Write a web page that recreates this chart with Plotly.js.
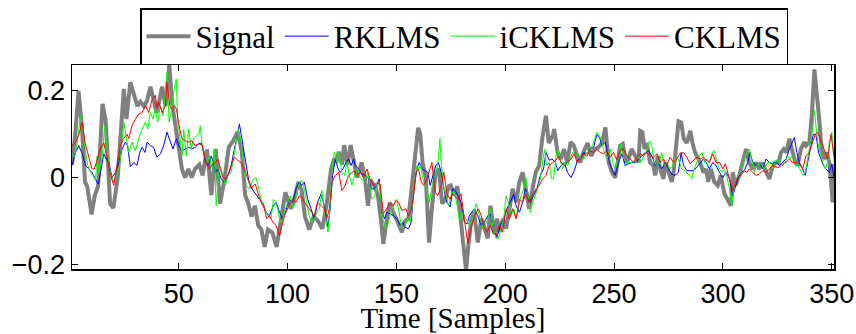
<!DOCTYPE html>
<html>
<head>
<meta charset="utf-8">
<script src="https://cdn.plot.ly/plotly-3.0.1.min.js"></script>
<style>html,body{margin:0;padding:0;background:#fff;}#chart{width:856px;height:334px;}</style>
</head>
<body>
<div id="chart"></div>
<script>
// Desired signal (turning points)
const sigX = [1,2.5,4,5.5,7,8,10,11.5,13,15,16.5,18.5,20,22,24.8,26,27.8,29.4,31,32.4,34,35.5,37,38.5,39.8,41,42.4,44,45.7,47,48.5,50,51.5,53,54.5,56,57.5,59.5,61,63,65,67,69,71,73,75,77,79,80.5,82,83.5,85,86.5,88,89.5,91,93,95,97,99,101.5,103,105,106.5,108,110,112,114,116,118,120,121.5,122.5,123.5,125,126,127.5,129,130.5,132,134,135.5,137,138,140,141.5,143,144,145.5,147,148.5,150,152.5,154,155.5,157,158.6,160,161,162,163.5,165,166.5,168,169.5,171,172.5,174,175,176.5,178,179.7,181,182,183,184.3,185.7,187.4,189,190.4,192,193.2,195,196.2,197.5,199,200.4,202,203.4,205,206.5,208,209.5,211,212.5,214,215.6,217,218.7,220,221.8,222.5,224,225.5,227,228.5,230,231.5,233,234.5,236,237.8,239.5,241,242.9,244.4,246,247.5,249,250.5,252.8,254,255.3,256.6,258,259.7,261.2,262,263,264,265,266.5,268,268.9,270,271.2,272.7,273.5,275,276.5,277.3,279.6,280.8,282,283.4,285,286,287.2,289.5,291,292.3,293.2,294.5,296,297.6,299,300.7,302.2,303.7,304.5,305.7,307.5,309,310.6,312,313.7,315,316.7,318,319.8,321.3,322.5,324,325.5,326.7,328,329.2,330.5,331.7,333.2,334.3,335.8,337.4,338.2,339.7,340.9,342,343,344.2,345.3,346.5,347.6,348.8,349.5,350.4,351];
const sigY = [0.03,0.1,0.2,0.12,-0.01,-0.02,-0.085,-0.04,-0.02,0.17,0.13,-0.06,-0.07,0.0,0.205,0.135,0.22,0.19,0.165,0.175,0.165,0.178,0.21,0.18,0.15,0.175,0.21,0.165,0.26,0.17,0.12,0.058,0.02,0.0,0.02,0.0,0.02,0.03,0.005,0.065,-0.04,0.066,-0.06,-0.005,0.07,0.085,0.105,0.06,-0.04,-0.06,-0.09,-0.065,-0.11,-0.12,-0.16,-0.12,-0.127,-0.16,-0.1,-0.034,-0.072,-0.05,-0.01,-0.03,-0.09,-0.12,-0.09,-0.1,-0.118,-0.06,0.02,0.045,0.035,0.06,0.03,0.075,0.03,0.075,0.035,0.0,0.035,0.0,-0.065,-0.005,-0.02,-0.04,-0.1,-0.153,-0.1,-0.057,-0.08,-0.095,-0.126,-0.1,-0.095,-0.02,0.05,0.115,0.1,0.035,0.0,-0.15,-0.06,0.01,0.02,-0.06,-0.05,-0.02,-0.018,-0.04,-0.02,-0.095,-0.165,-0.215,-0.16,-0.1,-0.08,-0.15,-0.095,-0.118,-0.14,-0.065,-0.13,-0.095,-0.125,-0.095,-0.118,-0.07,-0.026,-0.057,-0.01,0.012,-0.026,-0.072,-0.026,0.012,0.028,0.09,0.143,0.08,0.097,0.112,0.058,0.043,0.066,0.035,0.082,0.074,0.05,0.035,0.06,0.08,0.05,0.065,0.07,0.08,0.116,0.035,0.012,0.0,0.074,0.078,0.035,0.043,0.066,0.05,0.035,0.108,0.105,0.066,0.08,0.035,0.028,0.005,0.05,0.02,-0.003,0.035,0.012,-0.01,0.012,0.13,0.127,0.09,0.08,0.108,0.08,0.058,0.035,0.012,0.02,-0.01,0.02,-0.01,-0.018,0.005,-0.038,-0.05,-0.065,0.012,-0.018,0.005,0.035,0.066,0.035,0.02,0.035,0.02,0.035,0.012,-0.003,0.02,0.035,0.035,0.058,0.066,0.058,0.09,0.066,0.035,0.028,0.066,0.082,0.074,0.082,0.15,0.25,0.205,0.135,0.066,0.043,0.058,0.035,0.0,-0.057,0.03];

// RKLMS output
const rkX = [1,2.6,4.1,5.7,7.2,8.7,10.2,11.8,13,14.1,15.6,16.7,17.9,19.4,21,22.5,24,25.5,26.5,27.8,29.4,30.9,32.1,33.2,34.5,35.5,37,38.5,40,41.6,43.1,44.6,46.2,47.4,48.9,50,51.5,53,54.6,56.1,57.6,59.2,60.5,62.3,63.8,64.9,66,66.9,68,69.5,71,72.6,74.1,75.6,76.7,77.9,79.1,80.7,82.2,83.7,85.2,87.1,88.6,90.1,91.7,93.5,94.7,96.3,97.5,99,100.8,102.4,103.9,105.4,106.5,107.7,109.3,110.8,112.3,113.8,115.4,116.9,118.6,119.6,120.7,122,123.2,124.2,125.5,126.8,128,129.2,130.4,131.1,132.7,134.2,135.7,137,138.5,139.5,141,142.1,143.4,144.6,145.6,147.2,148.7,150.2,151.8,152.9,154,155.6,156.8,157.9,159.4,160.5,161.7,163.2,164.4,165.5,167,168.1,169.3,170.6,171.8,173.2,174.7,175.9,177,178.2,179.7,181.2,182.5,183.5,184.6,185.8,187.4,188.9,190.4,192,193.2,195,196.2,197.8,199.3,200.8,202.3,203.9,205,206.5,208,209.2,210.3,211.5,213,214.6,216.1,217.6,218.7,220.2,221.5,223,224.1,225.6,227.1,228.6,230.2,231.7,233.2,234.5,236,237.5,239,240.6,242.1,243.3,244.4,246,247.5,249,250.5,252,253.6,255.1,256.6,258.2,259.7,261.2,262.7,264.3,265.8,267.3,268.9,270.4,271.9,273.5,275,276.5,278,279.5,280.8,281.9,283.4,284.9,286.5,288,289.5,291,292.3,293.8,295.3,296.8,298.4,299.9,301.4,303,304.5,305.7,306.8,308.3,309.8,311.4,312.4,313.7,315.2,316.7,318.3,319.8,321.3,322.8,324.4,325.9,327.4,329,330.5,331.7,332.8,333.9,335.1,336.6,337.8,338.9,340.4,341.5,342.7,343.9,345,346.1,347.3,348.8,350,351];
const rkY = [0.028,0.058,0.074,0.055,0.028,0.02,0.012,-0.003,-0.015,0.012,0.055,0.043,0.035,0.0,0.012,0.035,0.066,0.082,0.074,0.025,0.035,0.028,0.058,0.07,0.058,0.082,0.074,0.07,0.047,0.055,0.074,0.105,0.082,0.066,0.09,0.074,0.062,0.066,0.07,0.066,0.07,0.078,0.08,0.035,0.028,0.05,0.035,0.012,0.02,-0.003,-0.01,0.005,0.028,0.066,0.09,0.124,0.09,0.035,-0.007,-0.026,-0.038,-0.05,-0.057,-0.08,-0.088,-0.065,-0.057,-0.08,-0.095,-0.08,-0.05,-0.057,-0.026,-0.01,-0.018,-0.01,-0.05,-0.072,-0.095,-0.057,-0.038,-0.065,-0.115,-0.068,0.005,0.043,0.02,0.012,0.02,0.035,0.043,0.028,0.043,0.028,0.02,0.008,0.005,0.0,-0.026,-0.026,-0.018,-0.003,-0.08,-0.095,-0.08,-0.084,-0.088,-0.095,-0.11,-0.103,-0.115,-0.118,-0.103,-0.034,0.02,0.035,0.02,0.016,0.012,-0.018,0.012,0.028,0.035,0.012,-0.026,-0.057,-0.068,-0.026,-0.03,-0.042,-0.057,-0.103,-0.107,-0.088,-0.08,-0.072,-0.088,-0.11,-0.103,-0.088,-0.084,-0.126,-0.138,-0.11,-0.095,-0.072,-0.057,-0.038,-0.065,-0.08,-0.057,-0.026,-0.034,-0.057,-0.042,-0.026,0.005,0.02,0.058,0.04,0.043,0.035,0.016,0.028,0.035,0.012,0.0,0.016,0.04,0.043,0.058,0.055,0.066,0.07,0.1,0.093,0.074,0.082,0.043,0.02,0.005,0.035,0.055,0.028,0.032,0.035,0.035,0.043,0.05,0.058,0.062,0.05,0.028,0.032,0.02,0.035,0.02,0.008,0.005,0.012,0.058,0.028,0.016,0.016,0.016,0.024,0.035,0.043,0.035,0.02,0.035,0.028,0.012,0.0,0.012,-0.003,-0.042,-0.018,-0.003,0.012,0.016,0.035,0.058,0.035,0.028,0.035,0.02,0.043,0.035,0.032,0.035,0.028,0.035,0.043,0.066,0.082,0.093,0.058,0.035,0.02,0.005,0.035,0.074,0.1,0.1,0.058,0.043,0.028,0.02,0.012,0.032,0.0];

// iCKLMS output
const icX = [1,2.2,3.4,4.9,6.1,7.2,8.3,9.5,10.7,11.8,12.5,13.3,14.8,16,17.1,18.3,19.9,21.4,22.9,24,24.8,26,27.1,28.6,30.1,31.7,33.2,34.7,35.8,37,38.2,39.3,40.4,41.6,42.8,43.9,44.6,45.6,46.5,47.7,48.9,49.5,50.8,51.6,52.3,53.5,54.6,55.7,56.9,58.2,59.3,59.9,60.8,61.9,62.9,64.1,65.4,66.4,67.2,68.7,70.3,71.5,72.6,74.1,75.3,76.4,77.4,78.7,79.9,81,82.2,83.2,84.3,85.5,86.8,87.8,89.4,90.9,92.4,93.5,94.5,95.5,96.6,97.8,99,100,101.3,102.4,103.6,104.7,105.7,107,108.5,110,111.2,112.3,113.4,114.6,115.8,117.4,118.6,119.5,120.4,121.6,122.7,123.5,125,126.2,127.3,128.4,129.6,131.1,132.3,133.4,134.5,135.7,136.9,138,138.8,140,141.1,142.1,143,144.1,145.2,146.4,147.9,149.2,150.2,151.3,152.5,154,155.2,156.3,157.4,158.6,159.4,160.2,161,162.5,164,165.1,166,167,168.1,169.3,170,170.6,171.6,172.7,174,175.2,176.3,177.4,179,180.5,182,183.5,185,186.6,188,189.7,190.8,192,193.2,194.2,195.8,197,198,199.3,200.4,201.4,202.6,203.9,205,206.1,207.2,208.5,209.5,210.6,211.5,212.6,213.7,214.9,216.1,217.2,218,219,220.2,221.3,222.2,223.3,224.1,225.1,226.4,227.4,228.6,229.9,230.9,232.2,233.2,234.5,236,237.5,239,240.6,242.1,243.3,244.4,245.5,246.7,248.2,249.4,250.5,252,253.3,254.3,255.9,257,258.2,259.7,261.2,262.3,263.5,264.7,266.3,267.3,268.4,269.6,270.8,271.9,273,274.2,275.4,276.5,277.6,278.8,280,281.1,282.6,284.2,285.7,286.8,288,289.2,290.4,291.5,292.6,293.8,295,296.1,297.2,298.4,299.6,300.7,301.7,303,304,305,306,307.2,308.3,309.8,310.9,312.1,313.4,314.4,315.5,316.7,317.8,319,320.5,321.6,322.8,324,325.1,326.2,327.4,328.6,329.7,330.8,332,333.2,334.3,335.4,336.6,337.8,338.9,340,341.2,342,342.7,343.5,344.6,345.8,347,348.1,348.8,350,351];
const icY = [0.055,0.048,0.082,0.143,0.112,0.058,0.028,0.012,0.005,-0.007,0.05,0.012,0.043,0.12,0.066,0.02,-0.01,0.005,0.028,0.09,0.128,0.09,0.058,0.082,0.062,0.09,0.112,0.128,0.112,0.15,0.135,0.158,0.128,0.166,0.143,0.197,0.243,0.128,0.15,0.197,0.228,0.135,0.082,0.05,0.112,0.05,0.112,0.066,0.09,0.097,0.1,0.12,0.074,0.05,0.035,0.05,0.02,0.066,-0.065,0.028,0.005,-0.018,0.005,0.012,0.05,0.09,0.112,0.082,0.035,-0.018,-0.026,-0.018,-0.003,0.0,-0.026,-0.05,-0.072,-0.088,-0.095,-0.05,-0.057,-0.072,-0.103,-0.095,-0.072,-0.057,-0.042,-0.072,-0.057,-0.026,-0.007,-0.01,-0.05,-0.088,-0.103,-0.095,-0.08,-0.072,-0.03,-0.095,-0.126,-0.07,0.02,0.058,0.035,0.058,0.012,0.005,0.035,0.005,-0.018,0.012,0.02,0.0,-0.007,-0.003,0.012,-0.026,-0.05,-0.042,-0.026,-0.01,-0.057,-0.103,-0.118,-0.103,-0.072,-0.057,-0.05,-0.08,-0.118,-0.11,-0.095,-0.103,-0.065,-0.003,0.028,0.02,0.028,-0.01,-0.026,-0.057,-0.034,-0.003,0.008,0.043,0.09,0.035,-0.018,-0.042,-0.065,-0.04,-0.03,-0.05,-0.1,-0.08,-0.095,-0.11,-0.095,-0.06,-0.085,-0.118,-0.11,-0.095,-0.072,-0.11,-0.141,-0.14,-0.118,-0.095,-0.042,-0.057,-0.088,-0.072,-0.095,-0.065,-0.042,-0.026,0.0,-0.042,-0.08,-0.057,-0.042,-0.026,-0.003,0.035,0.066,0.028,0.035,-0.003,-0.003,0.05,0.066,0.043,0.02,0.035,0.028,0.043,0.058,0.05,0.058,0.043,0.043,0.058,0.062,0.082,0.105,0.097,0.082,0.058,0.043,0.066,0.035,0.02,0.043,0.078,0.043,0.035,0.035,0.035,0.043,0.05,0.035,0.05,0.058,0.085,0.074,0.035,0.028,0.035,0.058,0.028,0.035,0.02,0.024,0.035,0.05,0.035,0.02,0.016,0.005,-0.003,0.02,0.035,0.05,0.058,0.035,0.043,0.035,0.058,0.062,0.035,0.02,0.012,0.02,0.005,-0.026,-0.065,-0.026,-0.003,0.005,0.012,0.043,0.058,0.066,0.035,0.012,0.028,0.035,0.028,0.02,0.035,0.035,0.02,0.035,0.043,0.035,0.028,0.035,0.05,0.043,0.05,0.035,0.028,0.02,0.005,0.012,0.043,0.074,0.112,0.155,0.112,0.082,0.058,0.035,0.02,0.035,0.082,0.105,0.035];

// CKLMS output
const ckX = [1,2.6,4,5.7,7,8.7,10.2,11.3,12.5,14,15.6,17,18.7,20.2,21.7,23.2,24.7,26.3,27.1,28.6,30.1,31.7,33.2,34.7,36.2,37.8,39.3,40,40.8,42.4,43.9,44.6,45.9,47,48.1,49,50,51.5,53.1,54.6,56.1,57.6,59.2,60.8,62.6,64,65.7,67,68,69.2,70.3,71.8,73.3,74.5,75.6,77.2,78.7,80.2,81.7,83.3,84.3,85.2,86.3,87.8,89.4,90.4,91.7,93.2,94.7,96.3,97.5,98.6,100,101.3,102.4,104,105.4,106.6,107.7,109.3,110.8,112.3,113.8,115.4,116.9,118,119.2,120.4,122,123.5,125,126.5,128,129.6,131,131.8,133.4,134.9,136.5,138,139.5,141,142.6,144,145.6,147,148.7,149.8,151,152.5,154.4,155.6,156.8,157.9,159,160.2,161.4,162.5,164,165,166.3,167.8,169,170.6,171.8,173.2,174.7,175.5,176.7,178.2,179.7,181.2,182.8,184.3,185.8,187.7,189,190.4,191.6,193.2,194.2,195.8,197.3,198.8,200.4,201.9,203.4,205,206.5,208,209.5,211,212.6,214.1,215.6,217.2,218.7,220.2,221.8,223.3,224.5,225.6,227.1,228.6,230.2,231.7,233,234.5,236,237.5,239,240.6,242,243.6,245.2,246.7,248.2,249.7,251.3,252.8,254.3,255.9,257.4,259,260.5,262,263.5,265,266.6,268.1,269.7,271.2,272.7,274.2,275.7,277.3,278.8,280.3,281.9,283.4,284.9,286.5,288,289.5,291,292.3,293.8,295.3,296.8,298.4,299.9,301.1,302.2,303.7,304.5,305.7,306.8,308.3,309.8,311,312.1,313.7,315.2,316.7,318.2,319.8,321.3,322.8,324.4,325.9,327.4,329,330.5,332,333.5,335.1,336.6,338.1,339.6,341.2,342.4,343.5,344.6,345.8,347,348.1,349.6,350.4,351];
const ckY = [0.074,0.08,0.097,0.128,0.08,0.05,0.02,0.02,0.043,0.066,0.08,0.05,0.005,-0.018,0.03,0.074,0.09,0.1,0.09,0.12,0.135,0.147,0.15,0.166,0.15,0.18,0.19,0.16,0.175,0.15,0.166,0.22,0.166,0.158,0.166,0.158,0.124,0.09,0.085,0.082,0.085,0.074,0.078,0.075,0.035,0.02,0.032,0.035,0.043,0.02,0.0,-0.003,0.012,0.035,0.047,0.04,0.035,0.02,-0.003,-0.026,-0.018,-0.015,-0.034,-0.057,-0.072,-0.095,-0.088,-0.103,-0.11,-0.134,-0.11,-0.088,-0.072,-0.057,-0.05,-0.057,-0.042,-0.045,-0.057,-0.068,-0.08,-0.088,-0.057,-0.065,-0.072,-0.095,-0.072,-0.01,0.005,0.012,-0.03,-0.018,0.005,0.012,0.016,0.005,0.012,0.0,0.02,-0.005,-0.018,-0.012,-0.015,-0.084,-0.072,-0.06,-0.064,-0.053,-0.057,-0.076,-0.072,-0.088,-0.076,-0.042,0.012,0.02,-0.01,-0.018,-0.003,0.012,0.035,-0.034,-0.042,-0.018,0.012,-0.038,-0.05,-0.038,-0.042,-0.05,-0.038,-0.095,-0.153,-0.118,-0.088,-0.072,-0.088,-0.118,-0.126,-0.11,-0.126,-0.134,-0.11,-0.126,-0.072,-0.095,-0.072,-0.095,-0.05,-0.057,-0.038,-0.057,-0.042,-0.026,-0.018,-0.003,0.005,0.028,0.035,0.04,0.05,0.035,0.028,0.035,0.043,0.055,0.035,0.043,0.055,0.05,0.062,0.058,0.066,0.058,0.055,0.062,0.047,0.058,0.04,0.062,0.066,0.05,0.043,0.035,0.047,0.055,0.05,0.058,0.05,0.047,0.055,0.035,0.043,0.028,0.047,0.035,0.043,0.055,0.058,0.047,0.032,0.04,0.047,0.043,0.047,0.04,0.035,0.055,0.035,0.035,0.02,0.032,0.012,-0.018,-0.03,-0.012,0.0,0.005,0.016,0.012,0.02,0.012,0.005,0.008,0.016,0.012,0.02,0.028,0.024,0.024,0.032,0.035,0.043,0.035,0.035,0.032,0.02,0.05,0.058,0.085,0.1,0.105,0.09,0.074,0.058,0.043,0.1,0.07,0.05];

const seriesNames = ['Signal', 'RKLMS', 'iCKLMS', 'CKLMS'];
const xTicks = [50, 100, 150, 200, 250, 300, 350];
const yTicks = [-0.2, 0, 0.2];
const yTickText = ['\u22120.2', '0', '0.2'];

const traces = [
  {x: sigX, y: sigY, name: seriesNames[0], mode: 'lines', line: {color: '#808080', width: 4}},
  {x: rkX, y: rkY, name: seriesNames[1], mode: 'lines', line: {color: '#0000ff', width: 1}},
  {x: icX, y: icY, name: seriesNames[2], mode: 'lines', line: {color: '#00ff00', width: 1}},
  {x: ckX, y: ckY, name: seriesNames[3], mode: 'lines', line: {color: '#ff0000', width: 1}}
];

const axisCommon = {
  showgrid: false, zeroline: false, showline: true, linecolor: '#000', linewidth: 1.5,
  mirror: 'allticks', ticks: 'inside', ticklen: 6, tickcolor: '#000', tickwidth: 1,
  tickfont: {family: 'Liberation Sans, Arial, sans-serif', size: 27, color: '#000'}
};

const layout = {
  width: 856, height: 334,
  margin: {l: 72, r: 22, t: 65, b: 65},
  paper_bgcolor: '#fff', plot_bgcolor: '#fff',
  showlegend: true,
  xaxis: Object.assign({}, axisCommon, {
    range: [1, 351], tickmode: 'array', tickvals: xTicks,
    title: {text: 'Time [Samples]', font: {family: 'Liberation Serif, serif', size: 29, color: '#000'}, standoff: 0}
  }),
  yaxis: Object.assign({}, axisCommon, {
    range: [-0.211, 0.26], tickmode: 'array', tickvals: yTicks, ticktext: yTickText
  }),
  legend: {
    orientation: 'h', xref: 'container', yref: 'container',
    x: 140/856, y: 1 - 8/334, xanchor: 'left', yanchor: 'top',
    bgcolor: '#fff', bordercolor: '#000', borderwidth: 1.5,
    font: {family: 'Liberation Serif, serif', size: 31, color: '#000'},
    itemwidth: 44, traceorder: 'normal'
  }
};

Plotly.newPlot('chart', traces, layout, {staticPlot: true, displayModeBar: false});
</script>
</body>
</html>
